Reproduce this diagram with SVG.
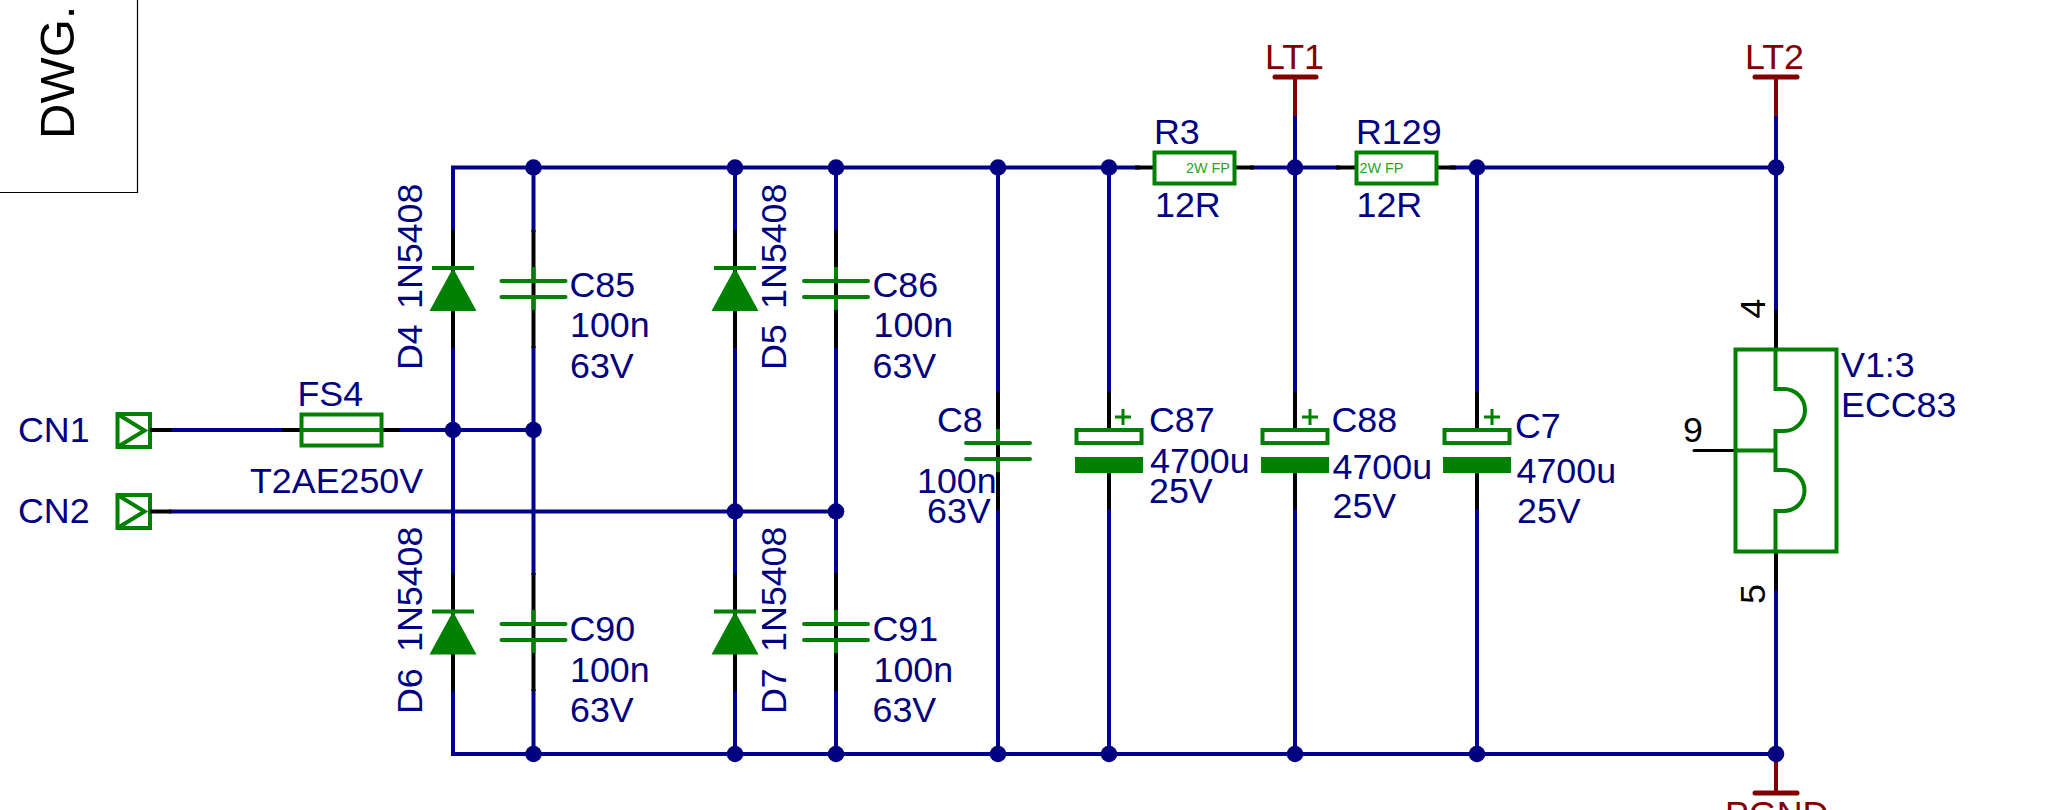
<svg xmlns="http://www.w3.org/2000/svg" width="2046" height="810" viewBox="0 0 2046 810">
<style>
text{font-family:"Liberation Sans",Arial,sans-serif;font-size:35.800px;fill:#000080}
.red{fill:#800000}
.blk{fill:#000}
.w{stroke:#000090;stroke-width:4;fill:none}
.pin{stroke:#000;stroke-width:4;fill:none}
.g{stroke:#008000;stroke-width:4;fill:none}
.gr{stroke:#008000;stroke-width:4;fill:none;stroke-linecap:round}
.r{stroke:#800000;stroke-width:4;fill:none}
.rr{stroke:#800000;stroke-width:5;fill:none;stroke-linecap:round}
.j{fill:#000080;stroke:none}
.fp{font-size:14.400px;fill:#2ca02c}
</style>
<defs>
<g id="diode">
<path class="pin" d="M0-38V80"/>
<path class="g" d="M-21 0H21"/>
<path d="M0 0L23.500 43H-23.500Z" fill="#008000"/>
</g>
<g id="cap">
<path class="pin" d="M0 0V118"/>
<path class="g" d="M0 37V51M0 67V80"/>
<path class="gr" d="M-32 51H32M-32 67H32"/>
</g>
<g id="ecap">
<path class="pin" d="M0 0V37M0 81V117"/>
<rect x="-32.500" y="38" width="65" height="13" fill="#fff" stroke="#008000" stroke-width="4"/>
<rect x="-34" y="65" width="68" height="16" fill="#008000"/>
</g>
<g id="port">
<rect x="0" y="0" width="32.500" height="33" fill="#fff" stroke="#008000" stroke-width="4"/>
<path class="g" d="M0 0L27 16.500L0 33"/>
</g>
<circle id="dot" r="8.300" class="j"/>
</defs>
<rect width="2046" height="810" fill="#fff"/>

<g id="frame">
<path d="M0 192.500H137.500V0" fill="none" stroke="#000" stroke-width="1.200"/>
<text class="blk" transform="translate(74 139) rotate(-90)" style="font-size:49px">DWG.</text>
</g>

<g id="connectors">
<path class="w" d="M1140 167.500H453V232M533.500 167.500V232M735 167.500V232M836 167.500V232M998 167.500V394M1109 167.500V394M1250 167.500H1340M1295 116V394M1450 167.500H1776M1477 167.500V394M1776 116V312"/>
<path class="w" d="M453 346V575M533.500 346V575M735 346V575M836 346V575"/>
<path class="w" d="M453 689V754H1776V588M533.500 689V754M735 689V754M836 689V754M998 507V754M1109 507V754M1295 507V754M1477 507V754"/>
<path class="w" d="M169 430H285M397 430H533.500M169 511.500H836"/>
<path class="r" d="M1295 77V116M1776 77V116M1776 754V793"/>
<use href="#dot" x="533.500" y="167.500"/><use href="#dot" x="735" y="167.500"/><use href="#dot" x="836" y="167.500"/><use href="#dot" x="998" y="167.500"/><use href="#dot" x="1109" y="167.500"/><use href="#dot" x="1295" y="167.500"/><use href="#dot" x="1477" y="167.500"/><use href="#dot" x="1776" y="167.500"/>
<use href="#dot" x="533.500" y="754"/><use href="#dot" x="735" y="754"/><use href="#dot" x="836" y="754"/><use href="#dot" x="998" y="754"/><use href="#dot" x="1109" y="754"/><use href="#dot" x="1295" y="754"/><use href="#dot" x="1477" y="754"/><use href="#dot" x="1776" y="754"/>
<use href="#dot" x="453" y="430"/><use href="#dot" x="533.500" y="430"/><use href="#dot" x="735" y="511.500"/><use href="#dot" x="836" y="511.500"/>
</g>

<g id="CN1"><use href="#port" x="117.500" y="414"/><path class="pin" d="M150 430H171.500"/><text x="18" y="442">CN1</text></g>
<g id="CN2"><use href="#port" x="117.500" y="495"/><path class="pin" d="M150 511.500H171.500"/><text x="18" y="523">CN2</text></g>

<g id="FS4">
<path class="pin" d="M282 430H300M382 430H400"/>
<rect x="301.500" y="414.500" width="80" height="31" fill="#fff" stroke="#008000" stroke-width="4"/>
<path class="g" d="M301 430H382"/>
<text x="297.500" y="406">FS4</text>
<text x="250" y="493">T2AE250V</text>
</g>

<g id="D4"><use href="#diode" x="453" y="268"/><text transform="translate(422 370) rotate(-90)">D4</text><text transform="translate(422 309) rotate(-90)">1N5408</text></g>
<g id="C85"><use href="#cap" x="533.500" y="230"/><text x="569.500" y="296.700">C85</text><text x="570" y="337">100n</text><text x="570" y="378">63V</text></g>
<g id="D5"><use href="#diode" x="735" y="268"/><text transform="translate(786 370) rotate(-90)">D5</text><text transform="translate(786 309) rotate(-90)">1N5408</text></g>
<g id="C86"><use href="#cap" x="836" y="230"/><text x="872.500" y="296.700">C86</text><text x="873.500" y="337">100n</text><text x="872.500" y="377.500">63V</text></g>
<g id="D6"><use href="#diode" x="453" y="611.500"/><text transform="translate(422 714) rotate(-90)">D6</text><text transform="translate(422 652) rotate(-90)">1N5408</text></g>
<g id="C90"><use href="#cap" x="533.500" y="573"/><text x="569.500" y="640.500">C90</text><text x="570" y="681.500">100n</text><text x="570" y="721.500">63V</text></g>
<g id="D7"><use href="#diode" x="735" y="611.500"/><text transform="translate(786 714) rotate(-90)">D7</text><text transform="translate(786 652) rotate(-90)">1N5408</text></g>
<g id="C91"><use href="#cap" x="836" y="573"/><text x="872.500" y="640.500">C91</text><text x="873.500" y="681.500">100n</text><text x="872.500" y="721.500">63V</text></g>

<g id="C8"><use href="#cap" x="998" y="392"/><text x="937" y="432">C8</text><text x="917" y="493">100n</text><text x="927" y="523">63V</text></g>
<g id="C87"><use href="#ecap" x="1109" y="392"/><path d="M1115 417H1131M1123 409V425" stroke="#008000" stroke-width="3"/><text x="1149" y="432">C87</text><text x="1150" y="473">4700u</text><text x="1149" y="503">25V</text></g>
<g id="C88"><use href="#ecap" x="1295" y="392"/><path d="M1302 417H1318M1310 409V425" stroke="#008000" stroke-width="3"/><text x="1331.500" y="432">C88</text><text x="1332.500" y="479">4700u</text><text x="1332.500" y="518">25V</text></g>
<g id="C7"><use href="#ecap" x="1477" y="392"/><path d="M1484 417H1500M1492 409V425" stroke="#008000" stroke-width="3"/><text x="1515" y="438">C7</text><text x="1516.500" y="483">4700u</text><text x="1517" y="523">25V</text></g>

<g id="R3">
<path class="pin" d="M1135 167.500H1153M1236 167.500H1254"/>
<rect x="1154.500" y="152.500" width="80" height="31" fill="#fff" stroke="#008000" stroke-width="4"/>
<text class="fp" x="1186" y="172.500">2W FP</text>
<text x="1154" y="144">R3</text><text x="1155" y="216.700">12R</text>
</g>
<g id="R129">
<path class="pin" d="M1336 167.500H1355M1438 167.500H1456"/>
<rect x="1356.500" y="152.500" width="80" height="31" fill="#fff" stroke="#008000" stroke-width="4"/>
<text class="fp" x="1359.500" y="172.500">2W FP</text>
<text x="1356" y="144">R129</text><text x="1356.500" y="216.700">12R</text>
</g>

<g id="LT1"><path class="rr" d="M1275 77H1316"/><text class="red" x="1265" y="69">LT1</text></g>
<g id="LT2"><path class="rr" d="M1755 77H1797"/><text class="red" x="1745" y="69">LT2</text></g>
<g id="PGND"><path class="rr" d="M1755 793H1797"/><text class="red" x="1725" y="826">PGND</text></g>

<g id="V1">
<path class="pin" d="M1776 310V350M1776 552V590"/>
<path d="M1694 450.500H1735" stroke="#000" stroke-width="3" stroke-linecap="round" fill="none"/>
<rect x="1735.500" y="349.500" width="101" height="202" fill="none" stroke="#008000" stroke-width="4"/>
<path class="g" d="M1775.500 350V389H1784A21 21 0 0 1 1784 431H1775.500V470H1784A20.500 20.500 0 0 1 1784 511H1775.500V552M1736 450.500H1775.500"/>
<text class="blk" transform="translate(1765 318.500) rotate(-90)">4</text>
<text class="blk" transform="translate(1765 604) rotate(-90)">5</text>
<text class="blk" x="1683" y="442">9</text>
<text x="1841" y="377">V1:3</text>
<text x="1841" y="417">ECC83</text>
</g>
</svg>
